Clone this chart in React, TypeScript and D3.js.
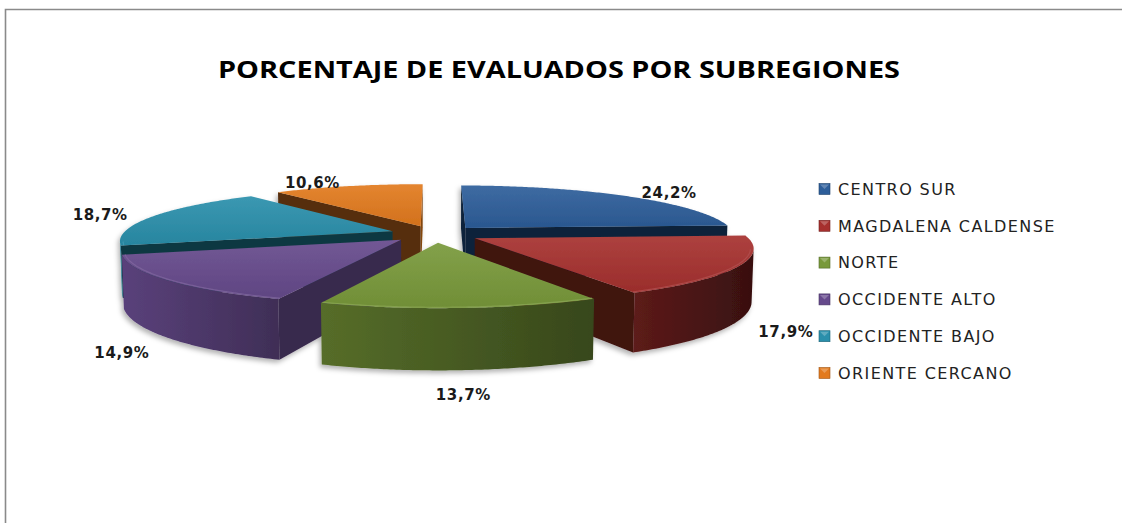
import React from 'react';
import * as d3 from 'd3';

const categories = ['CENTRO SUR', 'MAGDALENA CALDENSE', 'NORTE', 'OCCIDENTE ALTO', 'OCCIDENTE BAJO', 'ORIENTE CERCANO'];
const values = [24.2, 17.9, 13.7, 14.9, 18.7, 10.6];
const topColors = ['#2d5e9a', '#a6302e', '#78993a', '#664a8c', '#2a8fab', '#e27a1e'];

const W = 1122, H = 523;
// 3d pie set-up
const cx = 435, cy = 234;
const R = 270, explode = 45, depth = 52;
const tilt = 0.19; // sin of elevation
const dist = 1600; // camera distance, for perspective
const cosT = Math.sqrt(1 - tilt * tilt);
const cam = [0, dist * cosT, dist * tilt];

const project = (X: number, Y: number, Z: number): [number, number] => {
  const yc = -Y * tilt + Z * cosT;
  const zc = Y * cosT + Z * tilt;
  const f = dist / (dist - zc);
  return [cx + X * f, cy - yc * f];
};

const fmt = d3.formatLocale({ decimal: ',', thousands: '.', grouping: [3], currency: ['', ''] }).format('.1f');
const line = d3.line();

const darken = (c: string, k: number) => d3.interpolateRgb(c, '#000')(k);
const lighten = (c: string, k: number) => d3.interpolateRgb(c, '#fff')(k);
// wall shade: left facing walls are lit, right facing ones in shadow
const wallShade = (a: number) => 0.35 - 0.28 * (a - Math.PI) / (Math.PI / 2);

function Pie3D() {
  const arcs = d3.pie<number>().sort(null).value(d => d)(values);

  const slices = arcs.map((a, i) => {
    const a0 = a.startAngle, a1 = a.endAngle, m = (a0 + a1) / 2;
    const ox = explode * Math.sin(m), oy = -explode * Math.cos(m);
    const at = (ang: number, r: number, z: number) => project(ox + r * Math.sin(ang), oy - r * Math.cos(ang), z);
    const n = Math.ceil((a1 - a0) / 0.01);
    const angs = d3.range(n + 1).map(k => a0 + (a1 - a0) * k / n);

    const rim = angs.map(t => at(t, R, 0));
    const top = [at(0, 0, 0), ...rim];

    // outer wall, only the part facing the camera
    const vis = angs.filter(t => {
      const px = ox + R * Math.sin(t), py = oy - R * Math.cos(t);
      return (cam[0] - px) * Math.sin(t) + (cam[1] - py) * -Math.cos(t) > 0;
    });
    const wall = vis.length > 1
      ? {
        pts: [...vis.map(t => at(t, R, 0)), ...vis.slice().reverse().map(t => at(t, R, -depth))],
        left: Math.min(0.6, Math.max(0.08, wallShade(vis[vis.length - 1]))),
        right: Math.min(0.66, Math.max(0.2, wallShade(vis[0]) + 0.1)),
        rim: vis.map(t => at(t, R - 3, 0)),
      }
      : null;

    // radial cut faces
    const cuts = [
      { ang: a0, nx: -Math.cos(a0), ny: -Math.sin(a0) },
      { ang: a1, nx: Math.cos(a1), ny: Math.sin(a1) },
    ].filter(c => {
      const px = ox + R / 2 * Math.sin(c.ang), py = oy - R / 2 * Math.cos(c.ang);
      return (cam[0] - px) * c.nx + (cam[1] - py) * c.ny > 0;
    }).map(c => ({
      pts: [at(0, 0, 0), at(c.ang, R, 0), at(c.ang, R, -depth), at(0, 0, -depth)],
      shade: 0.62 - 0.2 * Math.pow(Math.max(0, c.nx), 2),
    }));

    // label: outside the rim, top level for back slices, under the wall for front ones
    const rl = R + explode + 28;
    const back = Math.cos(m) > 0;
    const lz = back ? 0 : -depth + 12 * Math.cos(m);
    const lp = project(rl * Math.sin(m), -rl * Math.cos(m), lz);
    const side = Math.abs(Math.sin(m)) > 0.3 ? Math.sign(Math.sin(m)) : 0;
    const label = { x: lp[0] + (back ? 29 : 20) * side, y: lp[1], text: fmt(values[i]) + '%' };

    return { i, oy, top, wall, cuts, label };
  });

  const order = slices.slice().sort((a, b) => a.oy - b.oy);

  return (
    <g>
      <defs>
        <filter id="shadow" x="-10%" y="-10%" width="120%" height="130%">
          <feDropShadow dx={-2} dy={3} stdDeviation={2.5} floodColor="#000" floodOpacity={0.3} />
        </filter>
        {slices.map(s => {
          const c = topColors[s.i];
          return (
            <React.Fragment key={s.i}>
              <linearGradient id={`top${s.i}`} x1="0" y1="0" x2="0" y2="1">
                <stop offset="0" stopColor={lighten(c, 0.08)} />
                <stop offset="1" stopColor={darken(c, 0.07)} />
              </linearGradient>
              {s.wall && (
                <linearGradient id={`wall${s.i}`} x1="0" y1="0" x2="1" y2="0">
                  <stop offset="0" stopColor={darken(c, s.wall.left)} />
                  <stop offset="1" stopColor={darken(c, s.wall.right)} />
                </linearGradient>
              )}
            </React.Fragment>
          );
        })}
      </defs>
      <g filter="url(#shadow)">
        {order.map(s => (
          <g key={s.i}>
            {s.cuts.map((c, k) => (
              <path key={k} d={line(c.pts as any) + 'Z'} fill={darken(topColors[s.i], c.shade)} />
            ))}
            {s.wall && <path d={line(s.wall.pts as any) + 'Z'} fill={`url(#wall${s.i})`} />}
            <path d={line(s.top as any) + 'Z'} fill={`url(#top${s.i})`} />
            {s.wall && <path d={line(s.wall.rim as any)!} fill="none" stroke={lighten(topColors[s.i], 0.2)} strokeOpacity={0.6} strokeWidth={1.2} />}
          </g>
        ))}
      </g>
      {slices.map(s => (
        <text key={s.i} x={s.label.x} y={s.label.y} dy="0.35em" textAnchor="middle"
          fontFamily="DejaVu Sans" fontWeight="bold" fontSize={15} letterSpacing={0.6} fill="#1a1a1a">
          {s.label.text}
        </text>
      ))}
    </g>
  );
}

function Legend() {
  const y = d3.scalePoint<string>().domain(categories).range([189, 373]);
  return (
    <g>
      {categories.map((c, i) => (
        <g key={c} transform={`translate(819,${y(c)})`}>
          <rect x={0} y={-5.5} width={11} height={11} fill={topColors[i]} stroke={darken(topColors[i], 0.3)} strokeWidth={0.6} />
          <path d="M1,-4.5 L10,-4.5 L5.5,0 Z" fill={lighten(topColors[i], 0.25)} />
          <text x={19} dy="0.36em" fontFamily="DejaVu Sans" fontSize={16} letterSpacing={1.4} fill="#222">{c}</text>
        </g>
      ))}
    </g>
  );
}

export default function App() {
  return (
    <svg width={W} height={H} style={{ position: 'absolute', left: 0, top: 0, background: '#fff' }}>
      <rect x={0} y={0} width={W} height={H} fill="#fff" />
      <path d={`M5.5,${H} V9.5 H${W}`} fill="none" stroke="#8a8a8a" strokeWidth={1.6} />
      <text x={559} y={78} textAnchor="middle" fontFamily="Open Sans" fontWeight="bold" fontSize={24}
        textLength={682} lengthAdjust="spacingAndGlyphs" fill="#000">
        PORCENTAJE DE EVALUADOS POR SUBREGIONES
      </text>
      <Pie3D />
      <Legend />
    </svg>
  );
}
